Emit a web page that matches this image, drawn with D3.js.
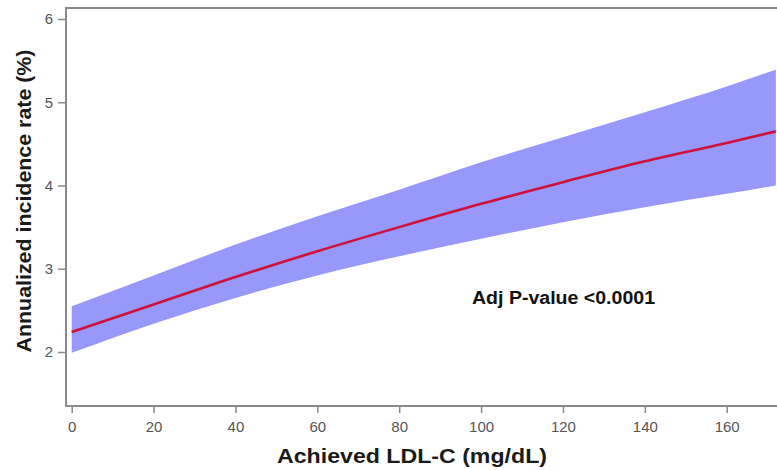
<!DOCTYPE html>
<html>
<head>
<meta charset="utf-8">
<script src="https://cdn.jsdelivr.net/npm/d3@7"></script>
<style>
  html, body { margin: 0; padding: 0; background: #fff; }
  svg { display: block; font-family: "Liberation Sans", Arial, sans-serif; }
</style>
</head>
<body>
<svg id="chart" width="777" height="470"></svg>
<script>
// achieved LDL-C (mg/dL)
var ldl = [0, 20, 40, 60, 80, 100, 120, 140, 160, 172];
// annualized incidence rate (%), fitted curve and 95% band
var rate = [2.24, 2.57, 2.90, 3.21, 3.50, 3.78, 4.04, 4.29, 4.51, 4.65];
var upper = [2.55, 2.92, 3.29, 3.63, 3.95, 4.28, 4.58, 4.88, 5.19, 5.39];
var lower = [1.99, 2.34, 2.65, 2.92, 3.15, 3.36, 3.56, 3.74, 3.90, 4.00];

var xTicks = [0, 20, 40, 60, 80, 100, 120, 140, 160];
var yTicks = [2, 3, 4, 5, 6];

var svg = d3.select("#chart");
var W = 777, H = 470;

var x = d3.scaleLinear().domain([0, 160]).range([71.7, 726.7]);
var y = d3.scaleLinear().domain([2, 6]).range([352, 19]);

var frameLeft = 66, frameTop = 8, frameBottom = 406;

var rows = ldl.map(function (d, i) {
    return { x: d, y: rate[i], hi: upper[i], lo: lower[i] };
});

svg.append("clipPath").attr("id", "clip")
    .append("rect")
    .attr("x", frameLeft).attr("y", frameTop)
    .attr("width", W - frameLeft).attr("height", frameBottom - frameTop);

var plot = svg.append("g").attr("clip-path", "url(#clip)");

// confidence band
plot.append("path")
    .datum(rows)
    .attr("fill", "#9898fb")
    .attr("d", d3.area()
        .curve(d3.curveMonotoneX)
        .x(function (d) { return x(d.x); })
        .y0(function (d) { return y(d.lo); })
        .y1(function (d) { return y(d.hi); }));

// fitted line
plot.append("path")
    .datum(rows)
    .attr("fill", "none")
    .attr("stroke", "#cf1038")
    .attr("stroke-width", 2.6)
    .attr("d", d3.line()
        .curve(d3.curveMonotoneX)
        .x(function (d) { return x(d.x); })
        .y(function (d) { return y(d.y); }));

// frame (left, top, bottom)
svg.append("path")
    .attr("fill", "none")
    .attr("stroke", "#8a8a8a")
    .attr("stroke-width", 2)
    .attr("d", "M" + W + "," + frameTop + "H" + frameLeft + "V" + frameBottom + "H" + W);

// y axis ticks
var yAxis = svg.append("g")
    .attr("transform", "translate(" + frameLeft + ",0)")
    .call(d3.axisLeft(y).tickValues(yTicks).tickSize(8).tickPadding(5).tickFormat(d3.format("d")));
yAxis.select(".domain").remove();
yAxis.selectAll(".tick line").attr("stroke", "#8a8a8a").attr("stroke-width", 1.5);
yAxis.selectAll(".tick text").attr("fill", "#555").style("font-size", "15px");

// x axis ticks
var xAxis = svg.append("g")
    .attr("transform", "translate(0," + frameBottom + ")")
    .call(d3.axisBottom(x).tickValues(xTicks).tickSize(7).tickPadding(8).tickFormat(d3.format("d")));
xAxis.select(".domain").remove();
xAxis.selectAll(".tick line").attr("stroke", "#8a8a8a").attr("stroke-width", 1.5);
xAxis.selectAll(".tick text").attr("fill", "#555").style("font-size", "15px");

// axis titles
svg.append("text")
    .attr("x", 412).attr("y", 463)
    .attr("text-anchor", "middle")
    .attr("fill", "#1a1a1a")
    .attr("textLength", 270).attr("lengthAdjust", "spacingAndGlyphs")
    .style("font-size", "21px").style("font-weight", "bold")
    .text("Achieved LDL-C (mg/dL)");

svg.append("text")
    .attr("transform", "translate(31,201) rotate(-90)")
    .attr("text-anchor", "middle")
    .attr("fill", "#1a1a1a")
    .attr("textLength", 303).attr("lengthAdjust", "spacingAndGlyphs")
    .style("font-size", "21px").style("font-weight", "bold")
    .text("Annualized incidence rate (%)");

// annotation
svg.append("text")
    .attr("x", 472).attr("y", 304)
    .attr("fill", "#111")
    .attr("textLength", 183).attr("lengthAdjust", "spacingAndGlyphs")
    .style("font-size", "18px").style("font-weight", "bold")
    .text("Adj P-value <0.0001");
</script>
</body>
</html>
